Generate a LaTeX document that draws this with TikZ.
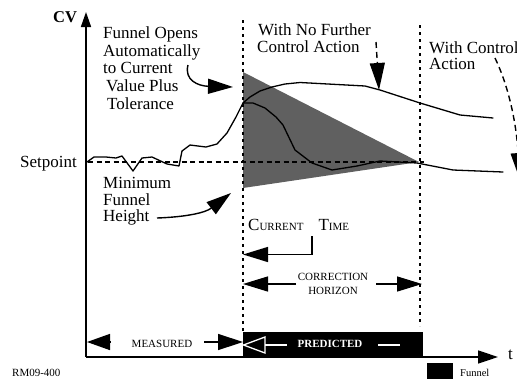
\documentclass[tikz,border=0pt]{standalone}
\usepackage{fontspec}
\setmainfont{Liberation Serif}
\usetikzlibrary{arrows.meta}
\definecolor{funnelgray}{RGB}{96,96,96}
\tikzset{
  axisline/.style={line width=1.6pt},
  curveline/.style={line width=1.3pt, line join=round, line cap=round},
  dotline/.style={line width=1.4pt, dash pattern=on 3pt off 4pt},
  setdash/.style={line width=1.1pt, dash pattern=on 5pt off 3.5pt},
  dasharrow/.style={line width=1.4pt, dash pattern=on 6pt off 4pt},
  lbl/.style={inner sep=0pt, anchor=base west, font=\fontsize{17}{17}\selectfont},
  smlbl/.style={inner sep=0pt, anchor=base, font=\fontsize{11}{11}\selectfont},
  bigtip/.style={-{Triangle[length=25pt,width=15pt]}},
  annot/.style={line width=1.4pt},
}
\begin{document}
\begin{tikzpicture}[x=1pt,y=-1pt]
\useasboundingbox (0,0) rectangle (517,381);
% funnel
\fill[funnelgray] (243,72) -- (419,162) -- (243,188) -- cycle;
% predicted bar
\fill[black] (243,332) rectangle (423,357);
% legend
\fill[black] (427,363) rectangle (453,379);
\node[inner sep=0pt, anchor=base west, font=\fontsize{10.5}{10.5}\selectfont] (leg) at (460,376) {Funnel};
% dotted verticals
\draw[dotline] (243,20) -- (243,332);
\draw[dotline] (420,25) -- (420,326);
% setpoint
\draw[setdash] (88,162) -- (424,162);
% axes
\coordinate (O) at (86,357);
\coordinate (ytop) at (86,12);
\coordinate (xend) at (498,357);
\draw[axisline, -{Triangle[length=15pt,width=10pt]}] (O) -- (ytop);
\draw[axisline, -{Triangle[length=20pt,width=13pt]}] (O) -- (xend);
\node[inner sep=0pt, anchor=base west, font=\fontsize{16.5}{16.5}\selectfont\bfseries] (cv) at (53,22) {CV};
\node[lbl] (t) at (508,359) {t};
% measured curve
\draw[curveline] (87,162) -- (94,157) -- (106,157) -- (116,158) -- (122,156) -- (133,171) -- (142,158) -- (152,157) -- (167,164) -- (179,166) -- (182,151) -- (190,145) -- (206,147) -- (217,144) -- (227,133) -- (236,117) -- (243,103);
% no further control (upper)
\draw[curveline] (243,103) -- (250,97) -- (260,91) -- (272,87) -- (285,84) -- (300,82.5) -- (365,86) -- (380,90) -- (420,103) -- (460,115) -- (493,118);
% with control (lower)
\draw[curveline] (243,103) -- (253,103) -- (265,108) -- (276,117) -- (283,125) -- (295,150) -- (312,163) -- (332,170) -- (357,166) -- (380,161) -- (417,163) -- (453,170) -- (503,172);
% texts
\node[lbl] (f1) at (103,38) {Funnel Opens};
\node[lbl] (f2) at (103,56) {Automatically};
\node[lbl] (f3) at (103,73.5) {to Current};
\node[lbl] (f4) at (106,91) {Value Plus};
\node[lbl] (f5) at (107,109) {Tolerance};
\node[lbl] (n1) at (258,35) {With No Further};
\node[lbl] (n2) at (257,52) {Control Action};
\node[lbl] (w1) at (429,53) {With Control};
\node[lbl] (w2) at (429,69) {Action};
\node[lbl] (sp) at (20,167) {Setpoint};
\node[lbl] (m1) at (103,188) {Minimum};
\node[lbl] (m2) at (103,205) {Funnel};
\node[lbl] (m3) at (103,221) {Height};
\node[inner sep=0pt, anchor=base west] (ct) at (248,230) {{\fontsize{17}{17}\selectfont C}{\fontsize{11}{11}\selectfont URRENT}\hspace{15pt}{\fontsize{17}{17}\selectfont T}{\fontsize{11}{11}\selectfont IME}};
\node[smlbl] (ch1) at (333,280) {CORRECTION};
\node[smlbl] (ch2) at (333,294) {HORIZON};
\node[smlbl] (meas) at (162,347) {MEASURED};
\node[smlbl, text=white, font=\fontsize{11}{11}\selectfont\bfseries] (pred) at (330,347.5) {PREDICTED};
\node[inner sep=0pt, anchor=base west, font=\fontsize{11}{11}\selectfont] (rm) at (12,376) {RM09-400};
% annotation arrows
\coordinate (fa0) at (188,65);
\coordinate (fa1) at (233,87);
\draw[annot, bigtip] (fa0) .. controls (184,80) and (198,86) .. (fa1);
\coordinate (ma0) at (157,218);
\coordinate (ma1) at (231,193);
\draw[annot, bigtip] (ma0) .. controls (185,217) and (205,213) .. (ma1);
\coordinate (na0) at (376,42);
\coordinate (na1) at (379,90);
\draw[dasharrow, -{Triangle[length=27pt,width=15pt]}] (na0) -- (na1);
\coordinate (wa0) at (495,58);
\coordinate (wa1) at (520,180);
\draw[dasharrow, -{Triangle[length=27pt,width=15pt]}] (wa0) .. controls (508,85) and (516,120) .. (wa1);
% current time
\coordinate (ct0) at (312,236);
\coordinate (ct1) at (243,254.5);
\draw[annot, bigtip] (ct0) |- (ct1);
% correction horizon
\coordinate (chl) at (243,284);
\coordinate (chr) at (422,284);
\draw[annot, bigtip] (296,284) -- (chl);
\draw[annot, bigtip] (376,284) -- (chr);
% measured
\coordinate (ml) at (87,342);
\coordinate (mr) at (243,342);
\draw[annot, -{Triangle[length=23pt,width=16pt]}] (110,342) -- (ml);
\draw[annot, -{Triangle[length=25pt,width=16pt]}] (204,342) -- (mr);
% predicted open arrow (white)
\draw[white, line width=1.3pt, line join=miter] (243.5,345) -- (265,337) -- (265,353) -- cycle;
\draw[white, line width=1.3pt] (265,345) -- (287,345);
\draw[white, line width=1.3pt] (378,345) -- (400,345);
\end{tikzpicture}
\end{document}
